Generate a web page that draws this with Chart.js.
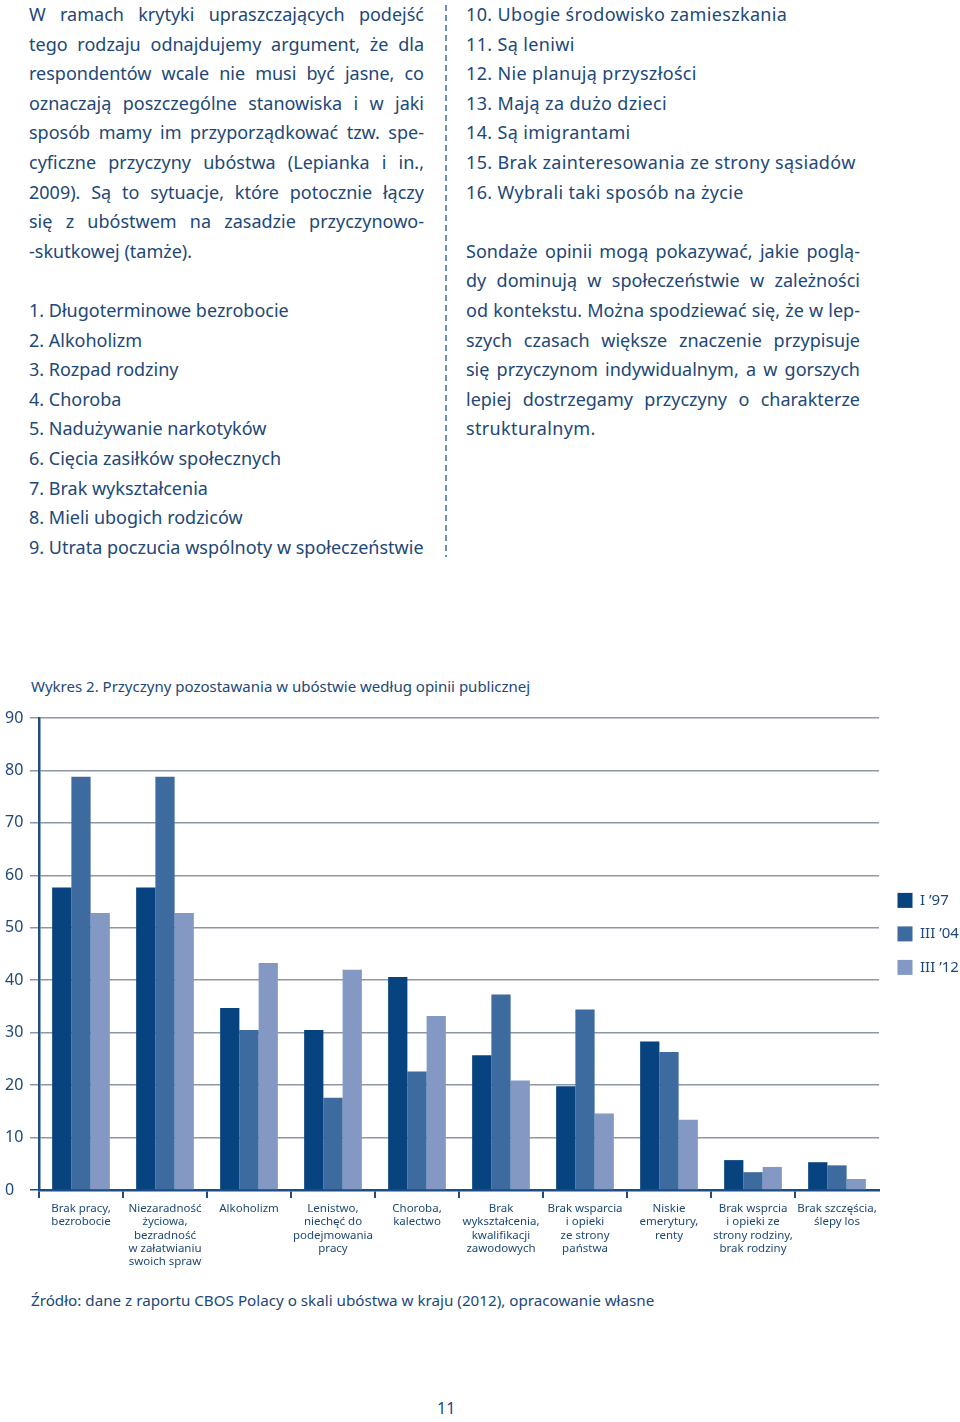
<!DOCTYPE html>
<html lang="pl">
<head>
<meta charset="utf-8">
<title>Wykres 2. Przyczyny pozostawania w ubóstwie</title>
<script src="https://cdn.jsdelivr.net/npm/chart.js@4.4.1/dist/chart.umd.min.js"></script>
<style>
    html, body { margin: 0; padding: 0; background: #fff; }
    body {
        width: 960px; height: 1422px; position: relative; overflow: hidden;
        font-family: "Noto Sans", sans-serif; color: #1d4877;
    }
    .col { position: absolute; top: 0; font-size: 18px; line-height: 29.6px; }
    .col.left { left: 29px; width: 395px; }
    .col.right { left: 466px; width: 394px; }
    .col.right .wide { letter-spacing: 0.35px; }
    .ln { white-space: nowrap; height: 29.6px; }
    .gap { height: 29.6px; }
    .sep {
        position: absolute; left: 445px; top: 5px; width: 1.5px; height: 552px;
        background: repeating-linear-gradient(to bottom, #6b8fb9 0 6px, transparent 6px 10px);
    }
    .caption { position: absolute; left: 31px; top: 676px; font-size: 15px; line-height: 20px; white-space: nowrap; }
    #chartBox { position: absolute; left: 0; top: 700px; width: 960px; height: 580px; }
    .source { position: absolute; left: 31px; top: 1290px; font-size: 15.2px; line-height: 20px; white-space: nowrap; }
    .page { position: absolute; left: 437px; top: 1398px; font-size: 16px; line-height: 20px; }
</style>
</head>
<body>

<div class="col left">
    <div class="ln j"><span>W ramach krytyki upraszczających podejść</span></div>
    <div class="ln j"><span>tego rodzaju odnajdujemy argument, że dla</span></div>
    <div class="ln j"><span>respondentów wcale nie musi być jasne, co</span></div>
    <div class="ln j"><span>oznaczają poszczególne stanowiska i w jaki</span></div>
    <div class="ln j"><span>sposób mamy im przyporządkować tzw. spe-</span></div>
    <div class="ln j"><span>cyficzne przyczyny ubóstwa (Lepianka i in.,</span></div>
    <div class="ln j"><span>2009). Są to sytuacje, które potocznie łączy</span></div>
    <div class="ln j"><span>się z ubóstwem na zasadzie przyczynowo-</span></div>
    <div class="ln"><span>-skutkowej (tamże).</span></div>
    <div class="gap"></div>
    <div class="ln">1. Długoterminowe bezrobocie</div>
    <div class="ln">2. Alkoholizm</div>
    <div class="ln">3. Rozpad rodziny</div>
    <div class="ln">4. Choroba</div>
    <div class="ln">5. Nadużywanie narkotyków</div>
    <div class="ln">6. Cięcia zasiłków społecznych</div>
    <div class="ln">7. Brak wykształcenia</div>
    <div class="ln">8. Mieli ubogich rodziców</div>
    <div class="ln">9. Utrata poczucia wspólnoty w społeczeństwie</div>
</div>

<div class="sep"></div>

<div class="col right">
    <div class="ln wide">10. Ubogie środowisko zamieszkania</div>
    <div class="ln wide">11. Są leniwi</div>
    <div class="ln wide">12. Nie planują przyszłości</div>
    <div class="ln wide">13. Mają za dużo dzieci</div>
    <div class="ln wide">14. Są imigrantami</div>
    <div class="ln wide">15. Brak zainteresowania ze strony sąsiadów</div>
    <div class="ln wide">16. Wybrali taki sposób na życie</div>
    <div class="gap"></div>
    <div class="ln j"><span>Sondaże opinii mogą pokazywać, jakie poglą-</span></div>
    <div class="ln j"><span>dy dominują w społeczeństwie w zależności</span></div>
    <div class="ln j"><span>od kontekstu. Można spodziewać się, że w lep-</span></div>
    <div class="ln j"><span>szych czasach większe znaczenie przypisuje</span></div>
    <div class="ln j"><span>się przyczynom indywidualnym, a w gorszych</span></div>
    <div class="ln j"><span>lepiej dostrzegamy przyczyny o charakterze</span></div>
    <div class="ln wide"><span>strukturalnym.</span></div>
</div>

<div class="caption">Wykres 2. Przyczyny pozostawania w ubóstwie według opinii publicznej</div>

<div id="chartBox"><canvas id="povertyChart" width="960" height="580"></canvas></div>

<div class="source">Źródło: dane z raportu CBOS Polacy o skali ubóstwa w kraju (2012), opracowanie własne</div>

<div class="page">11</div>

<script>
const categories = [
    ['Brak pracy,', 'bezrobocie'],
    ['Niezaradność', 'życiowa,', 'bezradność', 'w załatwianiu', 'swoich spraw'],
    ['Alkoholizm'],
    ['Lenistwo,', 'niechęć do', 'podejmowania', 'pracy'],
    ['Choroba,', 'kalectwo'],
    ['Brak', 'wykształcenia,', 'kwalifikacji', 'zawodowych'],
    ['Brak wsparcia', 'i opieki', 'ze strony', 'państwa'],
    ['Niskie', 'emerytury,', 'renty'],
    ['Brak wsprcia', 'i opieki ze', 'strony rodziny,', 'brak rodziny'],
    ['Brak szczęścia,', 'ślepy los']
];

const seriesNames = ['I ’97', 'III ’04', 'III ’12'];

// values (percent)
const values1997 = [57.7, 57.7, 34.7, 30.5, 40.6, 25.7, 19.8, 28.3, 5.7, 5.3];
const values2004 = [78.8, 78.8, 30.5, 17.6, 22.6, 37.3, 34.4, 26.3, 3.4, 4.7];
const values2012 = [52.8, 52.8, 43.3, 42.0, 33.2, 20.9, 14.6, 13.4, 4.4, 2.1];

const yTicks = [0, 10, 20, 30, 40, 50, 60, 70, 80, 90];

const seriesColors = ['#07437f', '#3e6b9f', '#8399c3'];
const textColor = '#1d4877';
const axisColor = '#1e4d82';
const gridColor = '#8d97a5';

Chart.defaults.font.family = '"Noto Sans", sans-serif';

class PovertyChartPage {
    constructor() {
        this.justifyLines();
        this.renderChart();
    }

    // stretch each justified line to exactly the column width
    justifyLines() {
        document.querySelectorAll('.ln.j').forEach(line => {
            const span = line.querySelector('span');
            span.style.wordSpacing = '0px';
            const spaces = (span.textContent.match(/ /g) || []).length;
            if (!spaces) return;
            const extra = (line.clientWidth - span.getBoundingClientRect().width) / spaces;
            span.style.wordSpacing = extra + 'px';
        });
    }

    renderChart() {
        const ctx = document.getElementById('povertyChart').getContext('2d');
        const series = [values1997, values2004, values2012];

        new Chart(ctx, {
            type: 'bar',
            data: {
                labels: categories,
                datasets: series.map((values, i) => ({
                    label: seriesNames[i],
                    data: values,
                    backgroundColor: seriesColors[i],
                    borderWidth: 0
                }))
            },
            options: {
                responsive: false,
                animation: false,
                devicePixelRatio: 1,
                layout: { padding: { top: 18, left: 5, right: 0, bottom: 0 } },
                datasets: { bar: { categoryPercentage: 0.687, barPercentage: 1 } },
                plugins: {
                    tooltip: { enabled: false },
                    legend: {
                        position: 'right',
                        align: 'start',
                        fullSize: false,
                        maxWidth: 81,
                        // empty title only pushes the legend down next to the 50 line
                        title: { display: true, text: '', padding: { top: 142, bottom: 0 } },
                        labels: {
                            boxWidth: 15,
                            boxHeight: 15,
                            padding: 18.5,
                            color: textColor,
                            font: { family: 'Noto Sans', size: 15 }
                        }
                    }
                },
                scales: {
                    x: {
                        grid: {
                            offset: true,
                            drawOnChartArea: false,
                            tickLength: 8,
                            lineWidth: 2,
                            color: c => c.tick ? axisColor : 'rgba(0,0,0,0)'
                        },
                        border: { color: axisColor, width: 2.5 },
                        ticks: {
                            autoSkip: false,
                            maxRotation: 0,
                            padding: 4,
                            color: textColor,
                            font: { size: 11.5, lineHeight: 1.16 }
                        },
                        afterFit: scale => { scale.height = 90; }
                    },
                    y: {
                        min: yTicks[0],
                        max: yTicks[yTicks.length - 1],
                        ticks: {
                            stepSize: yTicks[1] - yTicks[0],
                            padding: 7,
                            crossAlign: 'far',
                            color: textColor,
                            font: { size: 16 }
                        },
                        grid: {
                            tickLength: 9,
                            lineWidth: 1.5,
                            color: c => (c.tick && c.tick.value === 0) ? axisColor : gridColor
                        },
                        border: { color: axisColor, width: 2.5 },
                        afterFit: scale => { scale.width = 34; }
                    }
                }
            }
        });
    }
}

document.fonts.ready.then(() => new PovertyChartPage());
</script>
</body>
</html>
